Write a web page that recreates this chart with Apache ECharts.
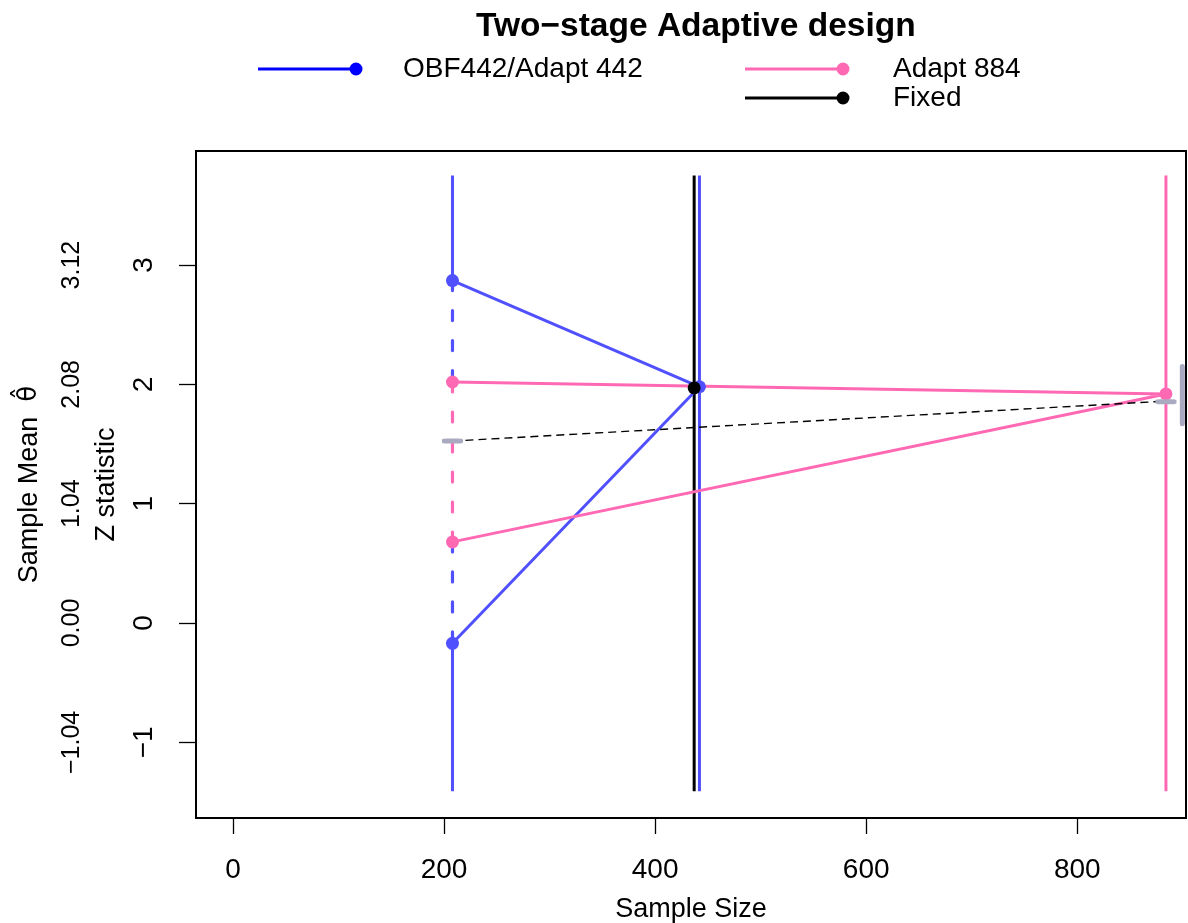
<!DOCTYPE html>
<html><head><meta charset="utf-8">
<script src="https://cdn.jsdelivr.net/npm/echarts@6/dist/echarts.min.js"></script>
<style>html,body{margin:0;padding:0;background:#fff}#c{width:1188px;height:923px}</style>
</head><body><div id="c"></div>
<script>
// ---- data ----
const xTicks = [0, 200, 400, 600, 800];
const yTicks = [-1, 0, 1, 2, 3];
const meanPerZ = 1.04;                 // sample mean = Z * 1.04
const interimN = 208;
const obfFinalN = 442, adaptFinalN = 884, fixedN = 437;
const lineTop = 3.75, lineBottom = -1.41;
const obfInterim = [2.87, -0.17];      // upper, lower interim boundary
const adaptInterim = [2.02, 0.68];
const obfFinalZ = 1.98, adaptFinalZ = 1.92, fixedZ = 1.97;
const estimateStart = [208, 1.525], estimateEnd = [884, 1.86];
const ciMarkPoints = [[208, 1.525], [884, 1.855]];
const ciBarX = 899.5, ciBarRange = [2.15, 1.67];

const names = ['OBF442/Adapt 442', 'Adapt 884', 'Fixed'];
const BLUE = '#5050FF', PINK = '#FF69B4', BLACK = '#000000', GREY = '#A9A9BF';
const FONT = 'Liberation Sans';

function icon(end) {
  return 'path://M0,5 L98,5 L98,8 L0,8 Z M91.5,6.5 A6.5,6.5 0 1 1 104.5,6.5 A6.5,6.5 0 1 1 91.5,6.5 Z M' + end + ',6 L' + end + ',7 L' + (end - 0.1) + ',7 Z';
}
function seg(name, pts, color, width, type, z, cap) {
  return { type: 'line', name: name, data: pts, symbol: 'none', silent: true, animation: false, z: z || 2,
    lineStyle: { color: color, width: width || 3, type: type || 'solid', cap: cap || 'butt', opacity: 1 } };
}
function pts(name, data, color, z) {
  return { type: 'scatter', name: name, data: data, symbol: 'circle', symbolSize: 13, silent: true, animation: false,
    z: z || 4, itemStyle: { color: color, opacity: 1 } };
}
const DASH = [10, 20];

const series = [
  seg(names[0], [[interimN, lineTop], [interimN, obfInterim[0]]], BLUE),
  seg(names[0], [[interimN, obfInterim[1]], [interimN, lineBottom]], BLUE),
  seg(names[0], [[interimN, obfInterim[0]], [interimN, adaptInterim[0]]], BLUE, 3.2, DASH, 2, 'round'),
  seg(names[0], [[interimN, adaptInterim[1]], [interimN, obfInterim[1]]], BLUE, 3.2, DASH, 2, 'round'),
  seg(names[1], [[interimN, adaptInterim[0]], [interimN, adaptInterim[1]]], PINK, 3.2, DASH, 2, 'round'),
  seg(names[0], [[obfFinalN, lineTop], [obfFinalN, lineBottom]], BLUE),
  seg(names[1], [[adaptFinalN, lineTop], [adaptFinalN, lineBottom]], PINK),
  seg(names[2], [[fixedN, lineTop], [fixedN, lineBottom]], BLACK),
  seg(names[0], [[interimN, obfInterim[0]], [obfFinalN, obfFinalZ], [interimN, obfInterim[1]]], BLUE),
  seg(names[1], [[interimN, adaptInterim[0]], [adaptFinalN, adaptFinalZ], [interimN, adaptInterim[1]]], PINK),
  seg('estimate', [estimateStart, estimateEnd], BLACK, 1.4, [8, 5]),
  pts(names[0], [[interimN, obfInterim[0]], [interimN, obfInterim[1]], [obfFinalN, obfFinalZ]], BLUE, 4),
  pts(names[1], [[interimN, adaptInterim[0]], [interimN, adaptInterim[1]], [adaptFinalN, adaptFinalZ]], PINK, 4),
  pts(names[2], [[fixedN, fixedZ]], BLACK, 5),
  { type: 'scatter', name: 'ci', data: ciMarkPoints, symbol: 'roundRect', symbolSize: [21, 5], silent: true, animation: false,
    z: 6, itemStyle: { color: GREY, opacity: 1 } },
  { type: 'line', name: 'ci', data: [[ciBarX, ciBarRange[0]], [ciBarX, ciBarRange[1]]], symbol: 'none', silent: true, animation: false,
    z: 6, lineStyle: { color: GREY, width: 5, cap: 'round' } }
];

const txt = { fontFamily: FONT, color: '#000' };
const chart = echarts.init(document.getElementById('c'), null, { renderer: 'canvas' });
chart.setOption({
  backgroundColor: '#fff',
  animation: false,
  title: { text: 'Two\u2212stage Adaptive design', left: 476, top: 10, padding: 0,
    textStyle: { fontFamily: FONT, fontWeight: 'bold', fontSize: 33.5, color: '#000' } },
  legend: [
    { data: [{ name: names[0], icon: icon(140), itemStyle: { color: '#0000FF', borderWidth: 0 } }],
      left: 258, top: 54.5, padding: 0, itemWidth: 140, itemHeight: 13, selectedMode: false,
      textStyle: Object.assign({ fontSize: 28, lineHeight: 29 }, txt) },
    { data: [{ name: names[1], icon: icon(143), itemStyle: { color: PINK, borderWidth: 0 } },
             { name: names[2], icon: icon(143), itemStyle: { color: BLACK, borderWidth: 0 } }],
      orient: 'vertical', left: 745, top: 54.5, padding: 0, itemGap: 0, itemWidth: 143, itemHeight: 13, selectedMode: false,
      textStyle: Object.assign({ fontSize: 28, lineHeight: 29 }, txt) }
  ],
  grid: { left: 196, right: 2, top: 151, bottom: 105, show: true, borderColor: '#000', borderWidth: 2,
    backgroundColor: 'transparent', containLabel: false, outerBoundsMode: 'none' },
  xAxis: { type: 'value', min: -35, max: 903,
    axisLine: { show: false, onZero: false }, splitLine: { show: false },
    axisTick: { show: true, customValues: xTicks, inside: false, length: 16, lineStyle: { color: '#000', width: 1.3 } },
    axisLabel: Object.assign({ customValues: xTicks, margin: 38, fontSize: 28 }, txt),
    name: 'Sample Size', nameLocation: 'middle', nameGap: 78,
    nameTextStyle: Object.assign({ fontSize: 27 }, txt) },
  yAxis: [
    { type: 'value', min: -1.634, max: 3.956, position: 'left',
      axisLine: { show: false, onZero: false }, splitLine: { show: false },
      axisTick: { show: true, customValues: yTicks, inside: false, length: 17, lineStyle: { color: '#000', width: 1.3 } },
      axisLabel: Object.assign({ customValues: yTicks, rotate: 90, margin: 38, fontSize: 28,
        formatter: v => String(v).replace('-', '\u2212') }, txt),
      name: 'Z statistic', nameLocation: 'middle', nameRotate: 90, nameGap: 76,
      nameTextStyle: Object.assign({ fontSize: 27 }, txt) },
    { type: 'value', min: -1.634, max: 3.956, position: 'left',
      axisLine: { show: false, onZero: false }, splitLine: { show: false }, axisTick: { show: false },
      axisLabel: Object.assign({ customValues: yTicks, rotate: 90, margin: 111, fontSize: 25,
        formatter: v => (v * meanPerZ).toFixed(2).replace('-', '\u2212') }, txt),
      name: 'Sample Mean  {t|\u03B8\u0302}', nameLocation: 'middle', nameRotate: 90, nameGap: 153,
      nameTextStyle: Object.assign({ fontSize: 27, rich: { t: { fontFamily: 'DejaVu Sans', fontSize: 26, color: '#000' } } }, txt) }
  ],
  series: series
});
</script></body></html>
